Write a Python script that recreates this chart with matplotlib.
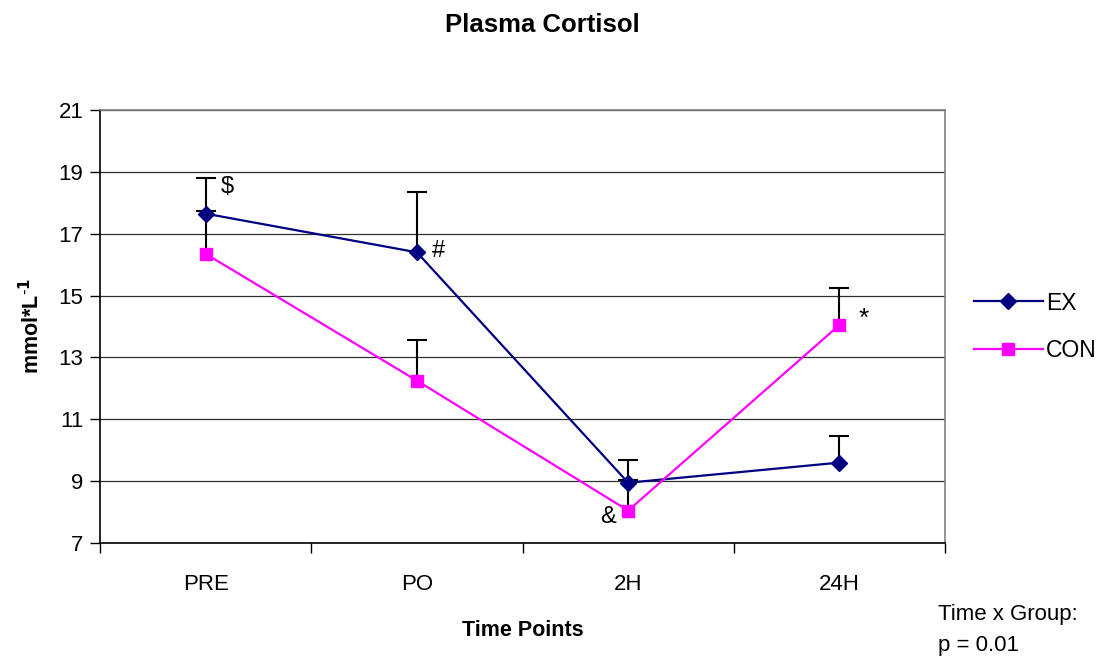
import numpy as np
import matplotlib.pyplot as plt

plt.rcParams['font.family'] = ['Liberation Sans', 'DejaVu Sans']

times = ['PRE', 'PO', '2H', '24H']
ex_mean = [17.65, 16.4, 8.95, 9.6]
ex_err = [1.15, 1.95, 0.75, 0.85]
con_mean = [16.35, 12.25, 8.05, 14.05]
con_err = [1.4, 1.3, 1.0, 1.2]
marks = ['$', '#', '&', '*']

x = np.arange(len(times))

fig = plt.figure(figsize=(10.98, 6.59), dpi=100)
ax = fig.add_axes([0.0911, 0.176, 0.7696, 0.657])

# upper error bars only (Excel style)
for means, errs in [(ex_mean, ex_err), (con_mean, con_err)]:
    tops = np.array(means) + np.array(errs)
    ax.vlines(x, means, tops, color='black', lw=1.5, zorder=2)
    ax.plot(x, tops, ls='none', marker='_', ms=14, mew=1.5, color='black', zorder=2)

ax.plot(x, ex_mean, color='#000080', lw=1.6, marker='D', ms=8, label='EX', zorder=3)
ax.plot(x, con_mean, color='#FF00FF', lw=1.6, marker='s', ms=8, label='CON', zorder=3)

# significance marks
ax.text(x[0] + 0.07, ex_mean[0] + 0.85, marks[0], fontsize=17, va='center', ha='left')
ax.text(x[1] + 0.07, ex_mean[1] + 0.05, marks[1], fontsize=17, va='center', ha='left')
ax.text(x[2] - 0.06, con_mean[2] - 0.2, marks[2], fontsize=17, va='center', ha='right')
ax.text(x[3] + 0.09, con_mean[3] + 0.2, marks[3], fontsize=19, va='center', ha='left')

ax.set_xlim(-0.5, 3.5)
ax.set_ylim(7, 21)
ax.set_yticks(np.arange(7, 22, 2))
ax.set_xticks(x)
ax.set_xticklabels(times)
ax.set_xticks(np.arange(-0.5, 3.6, 1), minor=True)
ax.tick_params(axis='x', which='major', length=0, labelsize=16, pad=22)
ax.tick_params(axis='x', which='minor', length=7, width=1, direction='out')
ax.tick_params(axis='y', length=7, width=1, direction='out', labelsize=16, pad=5)

ax.grid(axis='y', color='#303030', lw=0.9)
ax.set_axisbelow(True)
for s in ['top', 'right']:
    ax.spines[s].set_color('#808080')
    ax.spines[s].set_linewidth(1.2)
for s in ['left', 'bottom']:
    ax.spines[s].set_color('black')
    ax.spines[s].set_linewidth(1.2)

ax.set_xlabel('Time Points', fontsize=15.5, fontweight='bold', labelpad=18)
ax.set_ylabel(r'mmol*L$^{\mathbf{\text{-}1}}$', fontsize=15.5, fontweight='bold', labelpad=10)
fig.suptitle('Plasma Cortisol', fontsize=18.5, fontweight='bold', x=0.494, y=0.98)

ax.legend(loc='center left', bbox_to_anchor=(1.01, 0.50), frameon=False,
          fontsize=16.5, handlelength=3.0, labelspacing=1.05, handletextpad=0.15)

fig.text(0.854, 0.068, 'Time x Group:', fontsize=16, ha='left', va='center')
fig.text(0.854, 0.021, 'p = 0.01', fontsize=16, ha='left', va='center')

fig.savefig('out.png', dpi=100)
